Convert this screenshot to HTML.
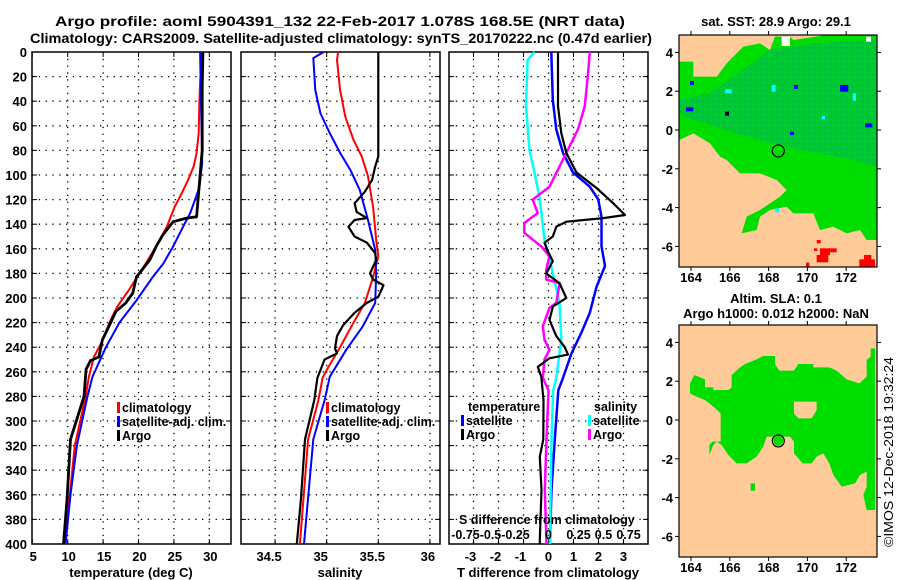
<!DOCTYPE html>
<html><head><meta charset="utf-8"><style>
html,body{margin:0;padding:0;background:#fff;}
svg{display:block;font-family:"Liberation Sans",sans-serif;font-weight:bold;}
</style></head><body>
<svg id="chart" width="900" height="580" viewBox="0 0 900 580" xmlns="http://www.w3.org/2000/svg">
<defs>
<pattern id="mottle" width="16" height="16" patternUnits="userSpaceOnUse">
<rect width="16" height="16" fill="#00c83a"/>
<rect x="0" y="0" width="4" height="4" fill="#00a868"/>
<rect x="8" y="4" width="4" height="4" fill="#00b060"/>
<rect x="4" y="8" width="4" height="4" fill="#00dd00"/>
<rect x="12" y="12" width="4" height="4" fill="#00a070"/>
<rect x="12" y="0" width="4" height="4" fill="#00dd00"/>
<rect x="0" y="12" width="4" height="4" fill="#00b858"/>
</pattern>
</defs>
<text x="340" y="26" text-anchor="middle" font-size="14" textLength="570" lengthAdjust="spacingAndGlyphs">Argo profile: aoml 5904391_132 22-Feb-2017 1.078S 168.5E (NRT data)</text>
<text x="341" y="43" text-anchor="middle" font-size="14" textLength="622" lengthAdjust="spacingAndGlyphs">Climatology: CARS2009. Satellite-adjusted climatology: synTS_20170222.nc (0.47d earlier)</text>
<g id="panels"></g>
<g id="maps"></g>
<text transform="translate(893,452) rotate(-90)" text-anchor="middle" font-size="13" font-weight="normal" textLength="190" lengthAdjust="spacingAndGlyphs">©IMOS 12-Dec-2018 19:32:24</text>
</svg>
<script>
// ---------- data ----------
const depthTicks = [0,20,40,60,80,100,120,140,160,180,200,220,240,260,280,300,320,340,360,380,400];
const tempTicks = [5,10,15,20,25,30];
const salTicks = [34.5,35,35.5,36];
const tdiffTicks = [-3,-2,-1,0,1,2,3];
const sdiffTickLabels = ["-0.75","-0.5","-0.25","0","0.25","0.5","0.75"];
const sdiffTicks = [-0.75,-0.5,-0.25,0,0.25,0.5,0.75];

const tClimDepth = [0,39,66,82,93,104,115,126,142,158,173,193,207,220,237,248,264,281,320,360,400];
const tClimVal = [28.9,28.6,28.5,28.2,27.8,27.0,26.1,25.1,24.0,22.5,20.9,18.7,17.0,15.9,14.7,13.7,13.0,12.5,11.0,10.3,9.6];
const tSatDepth = [0,90,110,120,131,142,158,172,183,202,220,240,264,280,320,360,400];
const tSatVal = [28.7,29.0,28.6,28.0,27.3,26.3,24.9,23.5,22.0,19.7,17.3,15.4,13.5,12.8,11.3,10.4,9.7];
const tArgoDepth = [0,30,80,134,135,138,149,158,169,183,196,204,211,222,234,248,251,258,280,315,364,400];
const tArgoVal = [29.1,29.0,29.0,28.2,26.8,24.9,23.4,22.5,21.6,19.7,19.2,18.2,16.8,15.9,14.9,14.4,13.2,12.6,12.3,10.4,9.9,9.4];

const sClimDepth = [0,6.5,31,52.6,71.5,85,101,126,153,166,183,204,220,240,258.5,265,283,315,400];
const sClimVal = [35.11,35.10,35.13,35.18,35.26,35.34,35.40,35.45,35.48,35.50,35.45,35.37,35.26,35.13,35.00,34.96,34.92,34.82,34.74];
const sSatDepth = [0,5,31,50,66,82,96,112,136.6,161,180,204,223,242,264,283,315,400];
const sSatVal = [34.97,34.87,34.89,34.94,35.03,35.13,35.23,35.32,35.40,35.47,35.48,35.47,35.35,35.19,35.03,34.98,34.87,34.78];
const sArgoDepth = [0,85,93,104,113.6,123,130,135,136.6,142,150,155,163.6,169,180,185,189.6,199,204,212,222,231,241,245,250,258.5,265,283,315,364,400];
const sArgoVal = [35.50,35.50,35.47,35.44,35.37,35.27,35.29,35.39,35.27,35.21,35.27,35.39,35.47,35.48,35.42,35.45,35.55,35.50,35.39,35.27,35.16,35.10,35.08,35.10,34.98,34.94,34.91,34.88,34.79,34.75,34.71];

const dtArgoDepth = [0,44,66,82,98,110.6,123,132.5,135,138,142,150,155,162,170,180,188,200,207,218,231,240,246,249,256,264,283,315,329,356,397,400];
const dtArgoVal = [0.38,0.38,0.51,0.71,1.12,1.92,2.59,3.06,2.19,0.71,0.31,0.17,-0.16,-0.03,0.17,-0.09,0.44,0.71,0.17,0.04,0.31,0.65,0.78,0.04,-0.43,-0.29,-0.2,-0.21,-0.35,-0.28,-0.35,-0.35];
const dtSatDepth = [0,39,63,82,98,109.5,120,134,158,174,191,212,228,245,265,275,315,356,400];
const dtSatVal = [0.11,0.17,0.31,0.58,0.98,1.65,1.99,2.12,2.12,2.26,1.92,1.65,1.32,0.92,0.58,0.39,0.25,0.12,0.05];
const dsSatDepth = [0,6.5,44,80,98,118,153,174,204,234,265,275,315,400];
const dsSatVal = [-0.141,-0.209,-0.225,-0.19,-0.14,-0.09,-0.04,0.027,0.11,0.128,0.078,0.047,0.03,0.013];
const dsArgoDepth = [0,17,44,63,82,109.5,120,131,139,147,158,166,177,185,188,204,208,223,234,242,250,265,275,315,356,400];
const dsArgoVal = [0.413,0.396,0.363,0.295,0.178,0.01,-0.158,-0.108,-0.242,-0.242,-0.074,0.01,-0.023,-0.023,0.111,0.078,0.01,-0.057,-0.04,0.01,-0.04,-0.057,0,-0.02,-0.037,-0.02];

const mapLonTicks = [164,166,168,170,172];
const mapLatTicks = [-6,-4,-2,0,2,4];
const argoLon = 168.5;
const argoLat = -1.078;

// ---------- helpers ----------
const NS = "http://www.w3.org/2000/svg";
function mk(tag, attrs, parent){const e=document.createElementNS(NS,tag);for(const k in attrs)e.setAttribute(k,attrs[k]);parent.appendChild(e);return e;}
const yDepth = d => 52 + d*1.23;
const PT = 52, PB = 544;
const panelsG = document.getElementById('panels');
const mapsG = document.getElementById('maps');

function panel(name, x0, x1, xScale, gridVals){
  const g = mk('g',{},panelsG);
  
  
  depthTicks.forEach(d=>{
    const y=yDepth(d);
    if(d>0&&d<400){const l=mk('line',{x1:x0,x2:x1,y1:y,y2:y,stroke:'#000','stroke-width':1.3,'stroke-dasharray':'1.3,5.5'},g);
      
      }
    mk('line',{x1:x0,x2:x0+5,y1:y,y2:y,stroke:'#000','stroke-width':1},g);
    mk('line',{x1:x1-5,x2:x1,y1:y,y2:y,stroke:'#000','stroke-width':1},g);
  });
  gridVals.forEach(v=>{
    const x=xScale(v);
    if(x>x0+2&&x<x1-2){const l=mk('line',{x1:x,x2:x,y1:PT,y2:PB,stroke:'#000','stroke-width':1.3,'stroke-dasharray':'1.3,5.5'},g);
      
      }
    mk('line',{x1:x,x2:x,y1:PB-5,y2:PB,stroke:'#000','stroke-width':1},g);
    mk('line',{x1:x,x2:x,y1:PT,y2:PT+5,stroke:'#000','stroke-width':1},g);
  });
  const r=mk('rect',{x:x0,y:PT,width:x1-x0,height:PB-PT,fill:'none',stroke:'#000','stroke-width':1.5},g);
  
  
  return g;
}
function series(g, name, depths, vals, xScale, color, w){
  const pts = depths.map((d,i)=>xScale(vals[i]).toFixed(1)+','+yDepth(d).toFixed(1)).join(' ');
  const p = mk('polyline',{points:pts,fill:'none',stroke:color,'stroke-width':w,'stroke-linejoin':'round'},g);
  
  
}
function txt(g, name, x, y, s, size, anchor, extra){
  const t = mk('text',Object.assign({x:x,y:y,'font-size':size,'text-anchor':anchor||'start'},extra||{}),g);
  t.textContent = s;
  
  
  return t;
}
function legendEntry(g, name, x, y, color, label){
  const m = mk('rect',{x:x,y:y-10,width:3,height:11,fill:color},g);
  
  
  txt(g, name, x+5, y, label, 12.5, 'start');
}

// ---------- panel 1: temperature ----------
const xT = v => 32.3 + (v-5)*7.08;
const g1 = panel('temperature-panel', 32, 231, xT, tempTicks);
series(g1,'temperature-climatology-line',tClimDepth,tClimVal,xT,'#f00',2);
series(g1,'temperature-satellite-line',tSatDepth,tSatVal,xT,'#00f',2);
series(g1,'temperature-argo-line',tArgoDepth,tArgoVal,xT,'#000',2.8);
depthTicks.forEach(d=>txt(g1,'depth-tick-label',27,yDepth(d)+5,String(d),13,'end'));
tempTicks.forEach(v=>txt(g1,'temperature-tick-label',xT(v)+1,561,String(v),13,'middle'));
txt(g1,'temperature-axis-title',131,577,'temperature (deg C)',13,'middle');
legendEntry(g1,'legend-climatology',117,412,'#f00','climatology');
legendEntry(g1,'legend-satellite-adj-clim',117,426,'#00f','satellite-adj. clim.');
legendEntry(g1,'legend-argo',117,440,'#000','Argo');

// ---------- panel 2: salinity ----------
const xS = v => 378.3 + (v-35.5)*103.2;
const g2 = panel('salinity-panel', 241, 440, xS, salTicks);
series(g2,'salinity-climatology-line',sClimDepth,sClimVal,xS,'#f00',2);
series(g2,'salinity-satellite-line',sSatDepth,sSatVal,xS,'#00f',2);
series(g2,'salinity-argo-line',sArgoDepth,sArgoVal,xS,'#000',2.2);
salTicks.forEach(v=>txt(g2,'salinity-tick-label',xS(v)-6+(v===36?4:0),561,String(v),13,'middle'));
txt(g2,'salinity-axis-title',340,577,'salinity',13,'middle');
legendEntry(g2,'legend-climatology',326,412,'#f00','climatology');
legendEntry(g2,'legend-satellite-adj-clim',326,426,'#00f','satellite-adj. clim.');
legendEntry(g2,'legend-argo',326,440,'#000','Argo');

// ---------- panel 3: differences ----------
const xD = v => 548.5 + v*25;
const xSD = v => 548.5 + v*100;
const g3 = panel('difference-panel', 449, 648, xD, tdiffTicks);
series(g3,'t-diff-satellite-line',dtSatDepth,dtSatVal,xD,'#00f',2.5);
series(g3,'s-diff-satellite-line',dsSatDepth,dsSatVal,xSD,'#0ff',2.5);
series(g3,'s-diff-argo-line',dsArgoDepth,dsArgoVal,xSD,'#f0f',2.5);
series(g3,'t-diff-argo-line',dtArgoDepth,dtArgoVal,xD,'#000',2.2);
tdiffTicks.forEach(v=>txt(g3,'t-diff-tick-label',xD(v)-(v<0?3:0),561,String(v),13,'middle'));
txt(g3,'t-diff-axis-title',548,577,'T difference from climatology',13,'middle');
txt(g3,'s-diff-axis-title',459,524,'S difference from climatology',12.5,'start');
sdiffTicks.forEach((v,i)=>txt(g3,'s-diff-tick-label',xSD(v)+(v<0?-8:(v>0?5:0)),539,sdiffTickLabels[i],12.5,'middle'));
txt(g3,'legend-temperature-header',468,411,'temperature',12.5,'start');
legendEntry(g3,'legend-t-satellite',461,425,'#00f','satellite');
legendEntry(g3,'legend-t-argo',461,439,'#000','Argo');
txt(g3,'legend-salinity-header',594,411,'salinity',12.5,'start');
legendEntry(g3,'legend-s-satellite',588,425,'#0ff','satellite');
legendEntry(g3,'legend-s-argo',588,439,'#f0f','Argo');

// ---------- maps ----------
const mx = l => 691 + (l-164)*19.4;
function mapFrame(name, top, bottom){
  const g = mk('g',{},mapsG);
  
  
  mk('rect',{x:679,y:top,width:198,height:bottom-top,fill:'#ffcc99'},g);
  return g;
}
function mapAxes(g, top, bottom, latZeroY){
  const my = l => latZeroY - l*19.4;
  mapLonTicks.forEach(l=>{
    mk('line',{x1:mx(l),x2:mx(l),y1:top-4,y2:top,stroke:'#000'},g);
    mk('line',{x1:mx(l),x2:mx(l),y1:bottom,y2:bottom+4,stroke:'#000'},g);
    txt(g,'lon-tick-label',mx(l),bottom+15,String(l),13,'middle');
  });
  mapLatTicks.forEach(l=>{
    mk('line',{x1:675,x2:679,y1:my(l),y2:my(l),stroke:'#000'},g);
    mk('line',{x1:877,x2:881,y1:my(l),y2:my(l),stroke:'#000'},g);
    txt(g,'lat-tick-label',673,my(l)+5,String(l),13,'end');
  });
  const r=mk('rect',{x:679,y:top,width:198,height:bottom-top,fill:'none',stroke:'#000','stroke-width':1.2},g);
  
  
  const c=mk('circle',{cx:mx(argoLon),cy:my(argoLat),r:6,fill:'none',stroke:'#000','stroke-width':1.2},g);
  
  
}
// top SST map
const gm1 = mapFrame('sst-map',35,267);
const z1 = mk('g',{transform:'translate(660,0) scale(0.33333)'},gm1);
const sstGreen = mk('polygon',{points:'58,185 100,185 100,230 170,230 200,190 250,140 300,130 330,150 345,110 390,110 400,120 500,105 652,105 652,720 620,720 600,690 560,700 520,680 480,690 460,640 400,640 380,620 330,630 300,650 290,690 245,700 260,650 300,630 330,610 360,590 380,570 350,540 300,520 240,520 200,480 180,470 150,430 100,400 58,420',fill:'#00dd00'},z1);


const sstDark = mk('polygon',{points:'60,300 150,280 220,230 330,150 450,130 652,120 652,500 580,480 480,460 380,440 300,420 230,400 170,380 100,360 60,340',fill:'url(#mottle)',opacity:0.85},z1);


[[540,255,25,20,'#00f'],[615,370,22,12,'#00f'],[78,322,22,12,'#00f'],[90,243,12,12,'#00f'],[402,255,12,12,'#00f'],[390,395,12,10,'#00f'],
 [335,255,12,20,'#0ff'],[578,280,10,22,'#0ff'],[195,268,20,12,'#0ff'],[485,348,10,10,'#0ff'],[345,625,12,12,'#0ff'],
 [365,110,25,28,'#fff'],[618,110,15,15,'#fff'],[195,335,12,12,'#000'],
 [470,765,35,22,'#f00'],[480,745,30,20,'#f00'],[508,745,22,12,'#f00'],[470,720,12,10,'#f00'],[598,778,47,22,'#f00'],[612,765,22,14,'#f00'],[438,788,10,12,'#f00'],[462,745,10,8,'#f00']
].forEach(c=>{const r=mk('rect',{x:c[0],y:c[1],width:c[2],height:c[3],fill:c[4]},z1);
  
  });
mapAxes(gm1,35,267,130);
txt(gm1,'sst-map-title',776,26,'sat. SST: 28.9 Argo: 29.1',13,'middle');

// bottom SLA map
const gm2 = mapFrame('sla-map',325,557);
const z2 = mk('g',{transform:'translate(660,290) scale(0.33333)'},gm2);
const slaGreen = mk('path',{d:'M90,280 L103,255 L135,268 L135,292 L160,292 L160,300 L205,300 L215,292 L215,255 L240,232 L255,222 L285,210 L310,198 L345,198 L345,222 L358,242 L402,242 L415,222 L460,222 L460,232 L508,232 L530,242 L560,268 L598,280 L620,260 L620,210 L632,200 L632,175 L645,175 L645,660 L620,660 L610,615 L620,590 L620,545 L600,555 L585,580 L545,590 L520,555 L508,520 L490,490 L470,500 L455,520 L428,520 L402,490 L402,455 L390,440 L320,440 L310,470 L290,500 L260,520 L230,520 L205,495 L185,465 L170,455 L160,465 L148,495 L148,465 L158,455 L182,455 L182,370 L160,350 L135,330 L105,318 L90,310 Z M402,335 L470,335 L470,360 L455,385 L415,385 L402,370 Z M272,580 L285,580 L285,602 L272,602 Z',fill:'#00dd00','fill-rule':'evenodd'},z2);


mk('circle',{cx:mx(argoLon),cy:420-argoLat*19.4,r:5,fill:'#00dd00'},gm2);
mapAxes(gm2,325,557,420);
txt(gm2,'sla-map-title-1',776,303,'Altim. SLA: 0.1',13,'middle');
txt(gm2,'sla-map-title-2',776,318,'Argo h1000: 0.012 h2000: NaN',13,'middle');
</script>
</body></html>
